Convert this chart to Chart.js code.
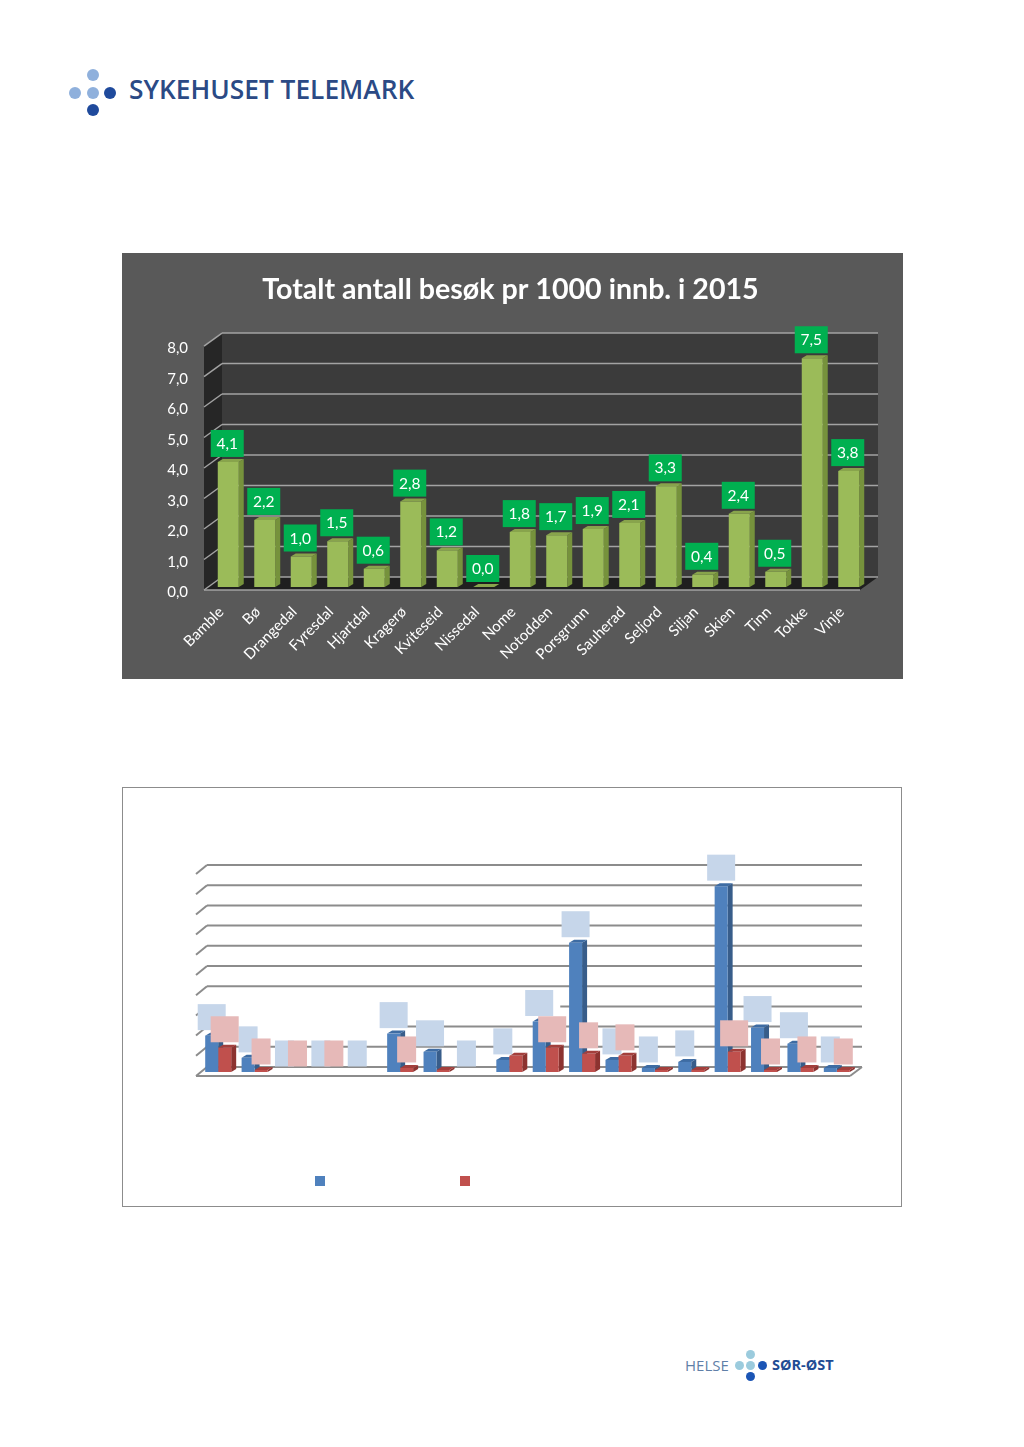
<!DOCTYPE html>
<html>
<head>
<meta charset="utf-8">
<title>Totalt antall besøk pr 1000 innb. i 2015</title>
<script src="https://cdn.jsdelivr.net/npm/chart.js@4"></script>
<style>
    body { margin: 0; background: #fff; font-family: Lato, sans-serif; }
    #page { position: relative; width: 1024px; height: 1447px; overflow: hidden; }
    canvas { position: absolute; display: block; }
    #chart1 { left: 122px; top: 253px; background: #595959; }
    #chart2 { left: 122px; top: 787px; }
    #frame2 { position: absolute; left: 122px; top: 787px; width: 778px; height: 418px; border: 1px solid #8c8c8c; }
    .dot { position: absolute; border-radius: 50%; }
    .logo { position: absolute; white-space: nowrap; }
</style>
</head>
<body>
<div id="page">
    <div id="logos"></div>
    <div id="frame2"></div>
    <canvas id="chart1" width="781" height="426"></canvas>
    <canvas id="chart2" width="780" height="420"></canvas>
</div>
<script>
const categories = ['Bamble', 'Bø', 'Drangedal', 'Fyresdal', 'Hjartdal', 'Kragerø', 'Kviteseid', 'Nissedal', 'Nome',
    'Notodden', 'Porsgrunn', 'Sauherad', 'Seljord', 'Siljan', 'Skien', 'Tinn', 'Tokke', 'Vinje'];

// Top chart
const visitsPer1000 = [4.1, 2.2, 1.0, 1.5, 0.6, 2.8, 1.2, 0.0, 1.8, 1.7, 1.9, 2.1, 3.3, 0.4, 2.4, 0.5, 7.5, 3.8];
const chart1Title = 'Totalt antall besøk pr 1000 innb. i 2015';

// Bottom chart: its text is white on white in the original
const blueValues = [18, 7, 0, 0, 0, 19, 10, 0, 6, 25, 64, 6, 2, 5, 92, 22, 14, 2];
const redValues = [12, 1, 0, 0, 0, 2, 1, 0, 8, 12, 9, 8, 1, 1, 10, 1, 2, 1];
const redLabelled = ['Bamble', 'Bø', 'Drangedal', 'Fyresdal', 'Kragerø', 'Notodden', 'Porsgrunn', 'Sauherad',
    'Skien', 'Tinn', 'Tokke', 'Vinje'];

Chart.defaults.animation = false;
Chart.defaults.font.family = 'Lato, sans-serif';

// Side and top faces of one bar, so it looks like the 3D bars of the original
function drawBarDepth(ctx, bar, depthX, depthY, sideColor, topColor) {
    const left = bar.x - bar.width / 2;
    const right = bar.x + bar.width / 2;
    ctx.fillStyle = sideColor;
    ctx.beginPath();
    ctx.moveTo(right, bar.y);
    ctx.lineTo(right + depthX, bar.y - depthY);
    ctx.lineTo(right + depthX, bar.base - depthY);
    ctx.lineTo(right, bar.base);
    ctx.closePath();
    ctx.fill();
    ctx.fillStyle = topColor;
    ctx.beginPath();
    ctx.moveTo(left, bar.y);
    ctx.lineTo(left + depthX, bar.y - depthY);
    ctx.lineTo(right + depthX, bar.y - depthY);
    ctx.lineTo(right, bar.y);
    ctx.closePath();
    ctx.fill();
}

function drawLine(ctx, x1, y1, x2, y2) {
    ctx.beginPath();
    ctx.moveTo(x1, y1);
    ctx.lineTo(x2, y2);
    ctx.stroke();
}

const darkWalls = {
    id: 'darkWalls',
    afterLayout(chart) {
        // the title is centred on the whole panel, not on the part left of the right padding
        chart.titleBlock.left += 16;
        chart.titleBlock.right += 16;
    },
    beforeDatasetsDraw(chart) {
        const ctx = chart.ctx;
        const y = chart.scales.y;
        const a = chart.chartArea;
        const frontL = a.left - 6, backL = a.left + 12, backR = a.right + 11, frontR = a.right - 7;
        const floorBack = y.getPixelForValue(0) - 10, floorFront = y.getPixelForValue(0) + 3;
        const topBack = y.getPixelForValue(8) - 10, topFront = y.getPixelForValue(8) + 3;

        ctx.save();
        ctx.fillStyle = '#3b3b3b';
        ctx.fillRect(backL, topBack, backR - backL, floorBack - topBack);
        ctx.fillStyle = '#262626';
        ctx.beginPath();
        ctx.moveTo(frontL, topFront);
        ctx.lineTo(backL, topBack);
        ctx.lineTo(backL, floorBack);
        ctx.lineTo(frontL, floorFront);
        ctx.closePath();
        ctx.fill();
        ctx.fillStyle = '#1f1f1f';
        ctx.beginPath();
        ctx.moveTo(frontL, floorFront);
        ctx.lineTo(backL, floorBack);
        ctx.lineTo(backR, floorBack);
        ctx.lineTo(frontR, floorFront);
        ctx.closePath();
        ctx.fill();

        ctx.strokeStyle = '#a3a3a3';
        ctx.lineWidth = 1.5;
        y.ticks.forEach(t => {
            const py = y.getPixelForValue(t.value);
            drawLine(ctx, frontL, py + 3, backL, py - 10);
            drawLine(ctx, backL, py - 10, backR, py - 10);
        });
        drawLine(ctx, frontL, floorFront, frontR, floorFront);

        const meta = chart.getDatasetMeta(0);
        meta.data.forEach(bar => drawBarDepth(ctx, bar, 5, 3, '#76923c', '#88a44c'));
        ctx.restore();
    },
    afterDatasetsDraw(chart) {
        const ctx = chart.ctx;
        const meta = chart.getDatasetMeta(0);
        ctx.save();
        ctx.font = '15.5px Lato, sans-serif';
        ctx.textAlign = 'center';
        ctx.textBaseline = 'middle';
        meta.data.forEach((bar, i) => {
            const cx = bar.x - 1;
            const cy = bar.y - 18.5;
            ctx.fillStyle = '#00b050';
            ctx.fillRect(cx - 16.5, cy - 13.5, 33, 27);
            ctx.fillStyle = '#ffffff';
            ctx.fillText(visitsPer1000[i].toFixed(1).replace('.', ','), cx, cy + 0.5);
        });
        ctx.restore();
    }
};

new Chart(document.getElementById('chart1').getContext('2d'), {
    type: 'bar',
    data: {
        labels: categories,
        datasets: [{
            data: visitsPer1000,
            backgroundColor: '#9bbb59',
            borderWidth: 0,
            categoryPercentage: 0.575,
            barPercentage: 1
        }]
    },
    options: {
        responsive: false,
        layout: { padding: { right: 36 } },
        plugins: {
            legend: { display: false },
            tooltip: { enabled: false },
            title: {
                display: true,
                text: chart1Title,
                color: '#ffffff',
                font: { size: 28.6, weight: 'bold' },
                padding: { top: 19.5, bottom: 36.2 }
            }
        },
        scales: {
            x: {
                grid: { display: false },
                border: { display: false },
                afterFit(scale) { scale.height = 92; },
                ticks: {
                    color: '#ffffff',
                    font: { size: 15 },
                    minRotation: 45,
                    maxRotation: 45,
                    autoSkip: false,
                    padding: 8,
                    labelOffset: -7
                }
            },
            y: {
                min: 0,
                max: 8,
                grid: { display: false, drawTicks: false },
                border: { display: false },
                afterFit(scale) { scale.width = 88; },
                ticks: {
                    stepSize: 1,
                    color: '#ffffff',
                    font: { size: 15 },
                    padding: 22,
                    labelOffset: 5.5,
                    callback: v => v.toFixed(1).replace('.', ',')
                }
            }
        }
    },
    plugins: [darkWalls]
});

const lightWalls = {
    id: 'lightWalls',
    beforeDatasetsDraw(chart) {
        const ctx = chart.ctx;
        const x = chart.scales.x;
        const y = chart.scales.y;
        const a = chart.chartArea;
        const frontL = a.left - 4, backL = a.left + 7, backR = a.right + 7, frontR = a.right - 5;

        ctx.save();
        ctx.strokeStyle = '#8c8c8c';
        ctx.lineWidth = 2;
        y.ticks.forEach(t => {
            const py = y.getPixelForValue(t.value);
            // 20 and 30 are cut off on the left side in the original
            let start = backL;
            if (t.value === 20) start = x.getPixelForValue(5);
            if (t.value === 30) start = x.getPixelForValue(9.4);
            drawLine(ctx, frontL, py + 4, backL, py - 5);
            drawLine(ctx, start, py - 5, backR, py - 5);
        });
        const py0 = y.getPixelForValue(0);
        drawLine(ctx, frontL, py0 + 4, frontR, py0 + 4);
        drawLine(ctx, frontR, py0 + 4, backR, py0 - 5);

        chart.getDatasetMeta(0).data.forEach((bar, i) => {
            if (blueValues[i] > 0) drawBarDepth(ctx, bar, 5, 3, '#385d8a', '#3e6ca3');
        });
        chart.getDatasetMeta(1).data.forEach((bar, i) => {
            if (redValues[i] > 0) drawBarDepth(ctx, bar, 5, 3, '#8c3330', '#a33f3c');
        });
        ctx.restore();
    },
    afterDatasetsDraw(chart) {
        const ctx = chart.ctx;
        const y = chart.scales.y;
        ctx.save();
        // the value boxes are wider for two digit numbers
        const box = (bar, value, color) => {
            const w = value >= 10 ? 28 : 19;
            ctx.fillStyle = color;
            ctx.fillRect(bar.x - w / 2, bar.y - 18.5 - 13, w, 26);
        };
        chart.getDatasetMeta(0).data.forEach((bar, i) => box(bar, blueValues[i], '#c6d6ea'));
        chart.getDatasetMeta(1).data.forEach((bar, i) => {
            if (redLabelled.includes(categories[i])) box(bar, redValues[i], '#e6b9b8');
        });

        // legend markers, their text is invisible in the original too
        const legendY = y.getPixelForValue(0) + 104;
        ctx.fillStyle = '#4f81bd';
        ctx.fillRect(193, legendY, 10, 10);
        ctx.fillStyle = '#c0504d';
        ctx.fillRect(338, legendY, 10, 10);
        ctx.restore();
    }
};

new Chart(document.getElementById('chart2').getContext('2d'), {
    type: 'bar',
    data: {
        labels: categories,
        datasets: [
            { data: blueValues, backgroundColor: '#4f81bd', borderWidth: 0, categoryPercentage: 0.714, barPercentage: 1 },
            { data: redValues, backgroundColor: '#c0504d', borderWidth: 0, categoryPercentage: 0.714, barPercentage: 1 }
        ]
    },
    options: {
        responsive: false,
        layout: { padding: { left: 78, right: 47, top: 83, bottom: 135 } },
        plugins: { legend: { display: false }, tooltip: { enabled: false } },
        scales: {
            x: { display: false },
            y: { display: false, min: 0, max: 100, ticks: { stepSize: 10 } }
        }
    },
    plugins: [lightWalls]
});

// Logos, top left and bottom right
function addDot(cx, cy, r, color) {
    const d = document.createElement('div');
    d.className = 'dot';
    d.style.cssText = `left:${cx - r}px;top:${cy - r}px;width:${2 * r}px;height:${2 * r}px;background:${color}`;
    document.getElementById('logos').appendChild(d);
}
function addText(text, x, y, css) {
    const d = document.createElement('div');
    d.className = 'logo';
    d.textContent = text;
    d.style.cssText = `left:${x}px;top:${y}px;${css}`;
    document.getElementById('logos').appendChild(d);
}

addDot(93, 75, 6, '#8fb0dc');
addDot(75, 93, 6, '#8fb0dc');
addDot(93, 93, 6, '#8fb0dc');
addDot(110, 93, 6, '#1f4a9c');
addDot(93, 110, 6, '#1f4a9c');
addText('SYKEHUSET TELEMARK', 129, 73, "font:600 26.3px/32px 'Open Sans',sans-serif;color:#2b4a85");

addDot(750, 1354, 4.5, '#9bcbdd');
addDot(739, 1365, 4.5, '#9bcbdd');
addDot(750, 1365, 4.5, '#9bcbdd');
addDot(762, 1365, 4.5, '#1b55b5');
addDot(750, 1376, 4.5, '#1b55b5');
addText('HELSE', 685, 1356, "font:400 15px/18px 'Open Sans',sans-serif;color:#5f7fa8");
addText('SØR-ØST', 772, 1356, "font:700 14.5px/18px 'Open Sans',sans-serif;color:#1f4c94");
</script>
</body>
</html>
